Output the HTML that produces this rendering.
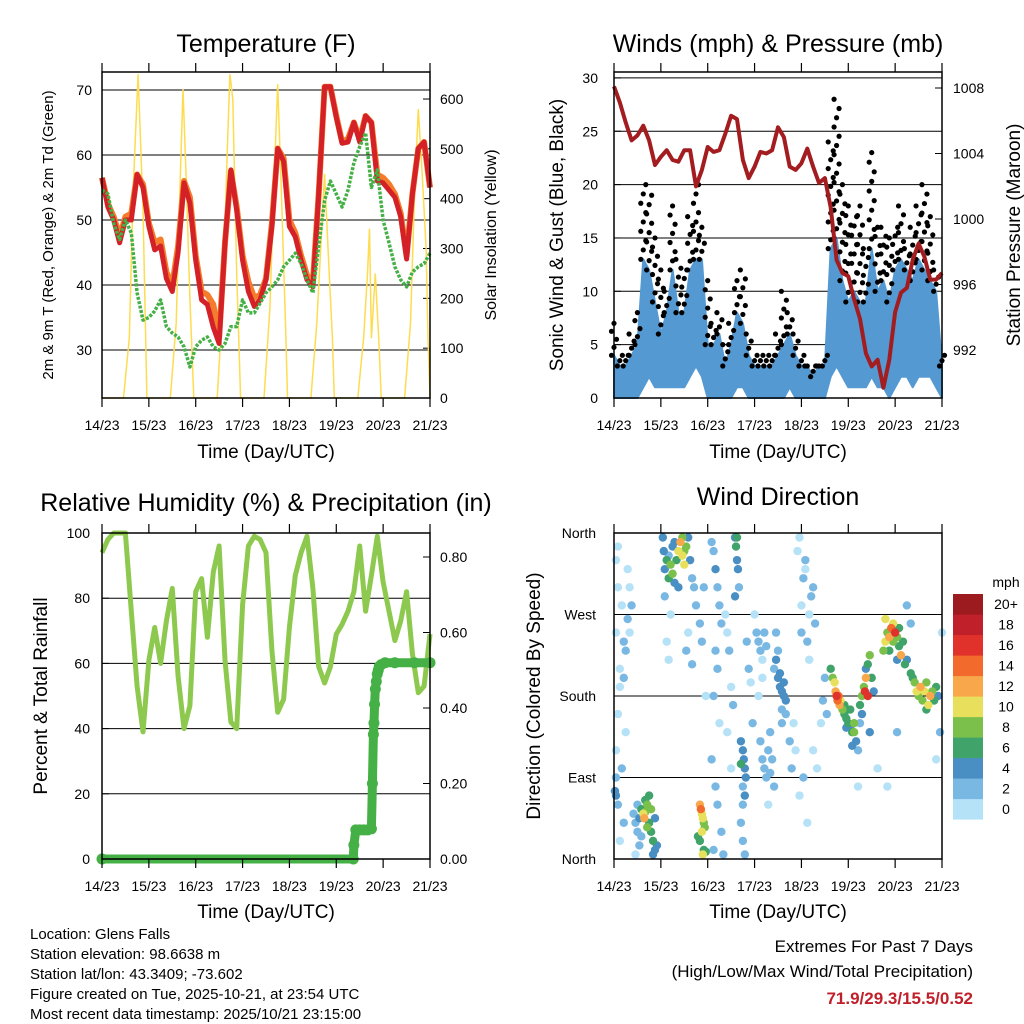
<!DOCTYPE html>
<html><head><meta charset="utf-8"><title>Station Meteogram</title>
<style>
html,body{margin:0;padding:0;background:#fff;}
svg{display:block;font-family:"Liberation Sans",Arial,sans-serif;}
.t{font-size:25px;text-anchor:middle;}
.tk{font-size:14px;}
.ax{font-size:19px;text-anchor:middle;}
.ft{font-size:15px;}
</style></head>
<body>
<svg id="chart" width="1024" height="1024" viewBox="0 0 1024 1024">
<rect width="1024" height="1024" fill="#fff"/>
<text class="t" x="266" y="52">Temperature (F)</text>
<text class="t" x="778" y="52">Winds (mph) &amp; Pressure (mb)</text>
<text class="t" x="266" y="511">Relative Humidity (%) &amp; Precipitation (in)</text>
<text class="t" x="778" y="505">Wind Direction</text>

<text class="ax" x="266" y="458">Time (Day/UTC)</text>
<text class="ax" x="778" y="458">Time (Day/UTC)</text>
<text class="ax" x="266" y="918">Time (Day/UTC)</text>
<text class="ax" x="778" y="918">Time (Day/UTC)</text>

<text style="font-size:15px" text-anchor="middle" transform="translate(53,235) rotate(-90)">2m &amp; 9m T (Red, Orange) &amp; 2m Td (Green)</text>
<text style="font-size:16px" text-anchor="middle" transform="translate(496,235) rotate(-90)">Solar Insolation (Yellow)</text>
<text class="ax" transform="translate(563,235) rotate(-90)">Sonic Wind &amp; Gust (Blue, Black)</text>
<text class="ax" transform="translate(1020,235) rotate(-90)">Station Pressure (Maroon)</text>
<text class="ax" transform="translate(47,696) rotate(-90)">Percent &amp; Total Rainfall</text>
<text class="ax" transform="translate(540,696) rotate(-90)">Direction (Colored By Speed)</text>

<g class="ft">
<text x="30" y="939">Location: Glens Falls</text>
<text x="30" y="959">Station elevation: 98.6638 m</text>
<text x="30" y="979">Station lat/lon: 43.3409; -73.602</text>
<text x="30" y="999">Figure created on Tue, 2025-10-21, at 23:54 UTC</text>
<text x="30" y="1019">Most recent data timestamp: 2025/10/21 23:15:00</text>
</g>
<g style="font-size:17px" text-anchor="end">
<text x="973" y="952">Extremes For Past 7 Days</text>
<text x="973" y="977">(High/Low/Max Wind/Total Precipitation)</text>
<text x="973" y="1004" fill="#c0202a" font-weight="bold">71.9/29.3/15.5/0.52</text>
</g>
<g id="layer"></g>
</svg>
<script>
// ---------- data ----------
const dayLabels = ["14/23","15/23","16/23","17/23","18/23","19/23","20/23","21/23"];
const tempTicks = [30,40,50,60,70];
const solarTicks = [0,100,200,300,400,500,600];
const windTicks = [0,5,10,15,20,25,30];
const presTicks = [992,996,1000,1004,1008];
const rhTicks = [0,20,40,60,80,100];
const rainTicks = [0,0.2,0.4,0.6,0.8];
const rainTickLabels = ["0.00","0.20","0.40","0.60","0.80"];
const dirTicks = [0,90,180,270,360];
const dirTickLabels = ["North","East","South","West","North"];
const speedBins = ["0","2","4","6","8","10","12","14","16","18","20+"];
const speedColors = ["#b5e2f7","#7ab8e4","#4a8fc4","#3fa36a","#7cc04c","#e8e05c","#f8a84a","#f26a2c","#e0322b","#c0202a","#9b1b1e"];

// 3-hourly series, hours 0..168
const tempRed = [56.5,52,50,46.5,50,50,57,55,49,45.4,46,41,39,45,55.7,52.6,43.8,37.7,37,33.5,31,46.5,57.7,51.5,43.8,39,36.7,37.7,40.8,49,61,59,49,47.4,43.8,40.8,39.7,54,70.5,70.5,65.8,61.8,62,65,62,66,65,56,55.7,54.6,53.5,50.5,44,54,61,62,55];
const tempOrange = [56.5,52.5,50.5,47.5,50.5,51,57,55.5,49.5,46.5,47,42,40,46,56,53.5,44.5,39,38.5,37,32,46.5,57.5,52,44.5,40.5,38,38.5,41,49.5,61,59.5,50,48,44.5,41.5,40.5,54,70.5,70.5,66,62,62.5,65,62.5,66,65,57,56.5,55.5,54,51,44.5,54,61,62,55];
const dewGreen = [54.6,54,49.5,47,50,48,38.8,34.6,35,36,37.7,33.6,32.6,32,30.5,27.4,30.5,31.5,32,30.5,30,31,33.6,33.6,37.7,35.7,35.7,37.2,38.8,39.7,40.8,42.8,43.8,44.9,43.3,40.8,38.8,46,53,56,54,52,54.6,58.8,61.3,63.4,55,57.7,50,46.5,42.8,40.8,39.7,42,42.8,43.3,44.9];
const solarHours = [0,11,14,16,18.5,21,23,35,38,40,41.5,43,45,47,59,62,64,65.5,67,69,71,83,86,88,90,92,94,95,107,110,112,114,116,118,119,131,134,136,137,138,140,142,143,155,158,160,162,164,166,167,168];
const solarVals  = [0,0,120,420,650,380,0,0,150,430,620,450,200,0,0,200,480,650,600,250,0,0,180,420,630,400,150,0,0,150,300,450,280,120,0,0,120,250,340,120,250,100,0,0,150,400,580,450,300,120,0];

const windLo  = [0,0,0,0,0,1,2,1,1,1,1,1,1,2,3,2,0,0,0,0,0,1,1,0,0,0,0,0,0,0,1,0,0,0,0,0,0,2,3,2,1,1,1,1,2,1,1,0,1,2,2,1,2,2,2,1,0];
const windHi  = [4,3,3,4,5,13,12,9,6,8,12,8,8,12,13,13,5,5,6,3,5,8,7,4,3,3,3,3,4,5,6,4,3,3,2,3,3,14,15,11,9,10,9,9,14,10,11,9,12,13,12,11,13,12,11,10,3];
const gustMax = [7,4,4,6,8,20,19,15,12,10,18,13,12,17,20,16,11,7,8,5,7,11,12,6,4,4,4,4,6,10,8,6,4,3,3,3,4,24,28,20,18,17,18,14,23,16,16,15,16,18,14,16,18,20,17,12,4];
const pressure = [1008.1,1007.1,1005.9,1004.8,1005.1,1005.7,1004.8,1003.3,1003.8,1004.2,1003.6,1003.5,1004.2,1004.2,1002,1003,1004.4,1004.1,1004.2,1005.2,1006.3,1006.1,1003.6,1002.5,1003.2,1004.1,1004,1004.2,1005.6,1005,1003.2,1003,1003.4,1004.3,1003.2,1002.2,1002.5,1000.7,997.5,996.7,996.5,995.1,993.9,991.8,991,991.4,989.7,991.4,994.3,995.5,995.8,997.5,998.5,997.7,996.3,996.3,996.7];

const rhVals = [94,98,100,100,100,76,53,39,61,71,60,73,83,56,40,47,82,86,68,88,96,61,42,40,78,96,99,98,94,64,45,49,71,87,94,99,83,59,54,59,69,72,76,82,96,76,87,99,85,76,67,73,82,63,51,53,69];
const rainHours = [0,128.7,129,130,132,134,136,138,138.5,139,139.3,139.6,140,140.5,141,141.5,142,143,145,150,160,168];
const rainVals  = [0,0,0.037,0.077,0.077,0.077,0.077,0.08,0.2,0.33,0.36,0.41,0.45,0.47,0.49,0.5,0.51,0.515,0.52,0.52,0.52,0.52];

const dirPts = [
[1,330,1],[2,300,1],[1,250,1],[3,210,1],[2,160,1],[1,120,1],[4,280,1],[5,240,2],[3,190,1],[1,90,3],[0.5,75,4],[1,70,4],[2,60,3],[4,100,2],[5,200,2],[6,230,2],[7,265,2],[6,140,1],[5,40,2],[3,20,1],[8,300,1],[2,345,1],[7,320,1],[9,280,2],[8,250,1],
[10,50,2],[11,40,3],[12,30,3],[13,45,5],[14,55,7],[15,50,10],[15.5,45,12],[16,52,9],[17,60,8],[18,40,6],[19,30,7],[20,20,6],[21,10,5],[19,55,8],[17,35,9],[16,65,7],[14,25,3],[12,60,2],[20,5,4],[22,15,4],[21,45,5],[13,15,2],[18,70,6],[11,5,1],
[25,355,4],[25.5,340,5],[26,320,4],[27,330,6],[28,310,7],[29,325,8],[30,345,5],[31,350,4],[32,330,6],[33,340,10],[34,350,12],[35,335,11],[36,325,10],[37,345,8],[38,355,5],[39,330,4],[40,310,3],[41,300,2],[33,300,4],[30,315,9],[28,335,3],[36,340,8],[35,355,9],[31,305,4],[26,290,3],
[27,240,1],[28,220,1],[29,270,1],[37,230,2],[38,250,1],[40,215,2],[42,280,2],[44,260,2],[45,240,2],[46,300,2],[47,180,1],
[44,60,13],[44.5,55,14],[45,50,11],[45.5,45,10],[46,40,9],[46.5,35,8],[45,30,10],[44,20,7],[46,10,6],[45.5,5,10],[47,8,6],[43,25,6],
[50,350,2],[51,340,3],[52,320,4],[53,300,3],[54,280,2],[55,260,2],[52,230,3],[53,210,2],[51,180,2],[54,150,1],[50,110,2],[52,80,3],[53,60,2],[55,30,3],[51,10,2],[56,5,3],
[62,355,5],[62.5,345,6],[63,330,5],[63.5,320,4],[64,300,3],[62,290,4],[63,355,7],
[65,130,4],[66,120,4],[66.5,110,5],[67,100,4],[67.5,90,4],[66,80,3],[67,70,4],[66,60,3],[65,40,3],[66,20,3],[67,5,2],[65,105,6],
[57,270,1],[58,250,1],[59,230,2],[60,190,1],[61,170,2],[58,140,1],[60,100,1],[68,240,2],[69,210,2],[70,195,1],[71,150,2],
[72,270,1],[73,250,2],[74,240,2],[75,230,2],[76,220,1],[77,250,2],[78,235,2],[76,200,1],[74,180,1],[75,130,2],[76,110,2],[77,100,3],[78,90,2],[79,120,3],[80,95,2],[81,110,3],[82,80,2],[79,60,1],[80,140,2],[82,210,3],[83,220,4],[84,200,4],[85,190,4],[86,185,4],[87,180,4],[88,175,4],[86,165,3],[85,205,4],[84,230,3],[87,195,5],[88,160,3],[86,150,3],[83,250,2],[90,130,2],[92,150,1],[93,120,1],[91,100,2],[95,70,1],[96,280,1],[97,310,2],[98,330,2],[96,250,2],[99,240,2],[100,270,1],[101,290,2],[102,300,2],[98,320,1],[100,220,1],[103,260,2],[94,340,1],[95,355,1],[104,100,1],[102,120,1],[97,90,2],[99,40,1],
[111,210,6],[112,200,8],[113,195,10],[113.5,185,12],[114,180,16],[114.5,175,14],[115,180,15],[115.5,170,12],[116,175,10],[117,165,8],[118,160,6],[119,155,7],[120,150,6],[121,145,5],[122,140,6],[123,150,8],[124,130,4],[125,120,3],[121,165,7],[118,170,6],[123,140,9],[122,125,4],[119,145,5],
[126,170,6],[127,180,8],[128,190,9],[128.5,185,16],[129,200,12],[130,215,7],[131,225,8],[130,180,16],[132,200,6],[127,160,4],[131,140,5],[133,185,5],[129,210,4],[126,150,3],
[138,230,8],[139,240,10],[140,250,9],[141,245,12],[142,255,14],[143,240,8],[144,250,16],[145,245,9],[146,235,7],[147,225,12],[148,240,6],[143,260,10],[141,230,6],[145,220,5],[139,265,10],[146,255,7],[149,215,6],[150,220,4],
[152,205,6],[154,195,8],[155,185,10],[156,180,9],[157,190,12],[158,175,8],[159,185,10],[160,195,9],[161,170,10],[162,180,12],[163,185,8],[164,175,7],[165,190,6],[166,180,5],[160,165,6],[153,200,7],
[150,280,2],[152,260,2],[135,100,1],[140,80,1],[125,80,1],[145,140,3],[165,110,1],[167,140,2],[168,250,1],[108,200,3],[107,175,3],[109,160,2],[106,150,1]
];

// ---------- helpers ----------
const NS = "http://www.w3.org/2000/svg";
const layer = document.getElementById("layer");
function mk(tag, attrs, parent){
  const e = document.createElementNS(NS, tag);
  for (const k in attrs) e.setAttribute(k, attrs[k]);
  (parent || layer).appendChild(e);
  return e;
}
const W = 328, HRS = 168;
const xT = h => 102 + h * W / HRS;
const xW = h => 614 + h * W / HRS;
const yT = v => 90 + (70 - v) * 6.5;
const yS = v => 398 - v * 0.4983;
const yW = v => 398 - v * 10.67;
const yP = p => 350 - (p - 992) * 16.375;
const yR = v => 859 - v * 3.26;
const yRain = p => 859 - p * 377.5;
const yD = d => 859 - d * 0.9056;
const stepH = i => i * 3;

function pathFrom(xs, ys){ return xs.map((x,i)=>(i?"L":"M")+x.toFixed(1)+","+ys[i].toFixed(1)).join(""); }

function frame(name, left, top, bottom, xfn, xLabY){
  const g = mk("g", {});
  
  
  dayLabels.forEach((lab, i) => {
    const x = xfn(i * 24);
    mk("line", {x1:x, x2:x, y1:top-9, y2:top, stroke:"#000", "stroke-width":1.2}, g);
    mk("line", {x1:x, x2:x, y1:bottom, y2:bottom+9, stroke:"#000", "stroke-width":1.2}, g);
    const t = mk("text", {x:x, y:xLabY, "text-anchor":"middle", "font-size":14}, g);
    t.textContent = lab;
    
    
  });
}
function box(name, left, top, bottom){
  const r = mk("rect", {x:left, y:top, width:W, height:bottom-top, fill:"none", stroke:"#000", "stroke-width":1.5});
  
  
}
function yAxis(name, ticks, labels, yfn, xText, anchor, left, grid, side){
  const g = mk("g", {});
  
  
  ticks.forEach((v, i) => {
    const y = yfn(v);
    if (grid) mk("line", {x1:left, x2:left+W, y1:y, y2:y, stroke:"#000", "stroke-width":1}, g);
    const tx = side === "l" ? left : left + W;
    mk("line", {x1:tx, x2:side==="l"?tx+7:tx-7, y1:y, y2:y, stroke:"#000", "stroke-width":1}, g);
    const t = mk("text", {x:xText, y:y+5, "text-anchor":anchor, "font-size":14}, g);
    t.textContent = labels ? labels[i] : String(v);
    
    
  });
}

// ---------- Temperature panel ----------
yAxis("temp-y-axis", tempTicks, null, yT, 92, "end", 102, true, "l");
yAxis("solar-y-axis", solarTicks, null, yS, 440, "start", 102, false, "r");
const hs = tempRed.map((_, i) => stepH(i));
const solar = mk("path", {d:pathFrom(solarHours.map(xT), solarVals.map(yS)), fill:"none", stroke:"#fddc50", "stroke-width":1.5});


const orng = mk("path", {d:pathFrom(hs.map(xT), tempOrange.map(yT)), fill:"none", stroke:"#f47c2a", "stroke-width":6, "stroke-linejoin":"round"});


const red = mk("path", {d:pathFrom(hs.map(xT), tempRed.map(yT)), fill:"none", stroke:"#d42127", "stroke-width":5, "stroke-linejoin":"round"});


const dew = mk("path", {d:pathFrom(hs.map(xT), dewGreen.map(yT)), fill:"none", stroke:"#44b045", "stroke-width":3.5, "stroke-dasharray":"3 1.5", "stroke-linejoin":"round"});


box("temp-plot", 102, 72, 398);
frame("temp", 102, 72, 398, xT, 430);

// ---------- Winds panel ----------
yAxis("wind-y-axis", windTicks, null, yW, 598, "end", 614, true, "l");
yAxis("pressure-y-axis", presTicks, null, yP, 953, "start", 614, false, "r");
const wh = windHi.map((_, i) => stepH(i));
const blueD = pathFrom(wh.map(xW), windHi.map(yW)) + pathFrom(wh.slice().reverse().map(xW), windLo.slice().reverse().map(yW)).replace("M","L") + "Z";
const blue = mk("path", {d:blueD, fill:"#5599d2", stroke:"#5599d2", "stroke-width":2, "stroke-linejoin":"round"});


const gustG = mk("g", {fill:"#000"});


gustMax.forEach((gv, i) => {
  const hi = windHi[i];
  const n = Math.max(1, Math.ceil((gv - hi) / 0.9));
  for (let j = 0; j <= n; j++) {
    const v = hi + (gv - hi) * j / n;
    const c = mk("circle", {cx:xW(stepH(i)) + ((j % 3) - 1) * 2.5, cy:yW(v), r:2.6}, gustG);
    
    
  }
});
const pres = mk("path", {d:pathFrom(wh.map(xW), pressure.map(yP)), fill:"none", stroke:"#a31d20", "stroke-width":4, "stroke-linejoin":"round"});


box("wind-plot", 614, 72, 398);
frame("wind", 614, 72, 398, xW, 430);

// ---------- RH panel ----------
yAxis("rh-y-axis", rhTicks, null, yR, 90, "end", 102, true, "l");
yAxis("rain-y-axis", rainTicks, rainTickLabels, yRain, 440, "start", 102, false, "r");
const rh = mk("path", {d:pathFrom(rhVals.map((_, i) => xT(stepH(i))), rhVals.map(yR)), fill:"none", stroke:"#8dc94e", "stroke-width":5, "stroke-linejoin":"round"});


const rainLine = mk("path", {d:pathFrom(rainHours.map(xT), rainVals.map(yRain)), fill:"none", stroke:"#44b045", "stroke-width":9, "stroke-linecap":"round", "stroke-linejoin":"round"});


rainHours.forEach((h, i) => {
  const c = mk("circle", {cx:xT(h), cy:yRain(rainVals[i]), r:5.5, fill:"#44b045"});
  
  
});
box("rh-plot", 102, 533, 859);
frame("rh", 102, 533, 859, xT, 891);

// ---------- Wind direction panel ----------
yAxis("dir-y-axis", dirTicks, dirTickLabels, yD, 596, "end", 614, true, "l");
const dg = mk("g", {});


dirPts.slice().sort((a,b)=>a[2]-b[2]).forEach(p => {
  const bin = Math.min(10, Math.floor(p[2] / 2));
  const c = mk("circle", {cx:xW(p[0]), cy:yD(p[1]), r:4.2, fill:speedColors[bin]}, dg);
  
  
});
box("dir-plot", 614, 533, 859);
frame("dir", 614, 533, 859, xW, 891);

// colorbar
const cb = mk("g", {});


const cbt = mk("text", {x:1006, y:587, "text-anchor":"middle", "font-size":14}, cb);
cbt.textContent = "mph";
speedBins.forEach((lab, i) => {
  const y0 = 594 + (10 - i) * 20.5;
  const r = mk("rect", {x:953, y:y0, width:30, height:20.6, fill:speedColors[i]}, cb);
  
  
  const t = mk("text", {x:1006, y:y0 + 15, "text-anchor":"middle", "font-size":14}, cb);
  t.textContent = lab;
  
  
});
</script>
</body></html>
